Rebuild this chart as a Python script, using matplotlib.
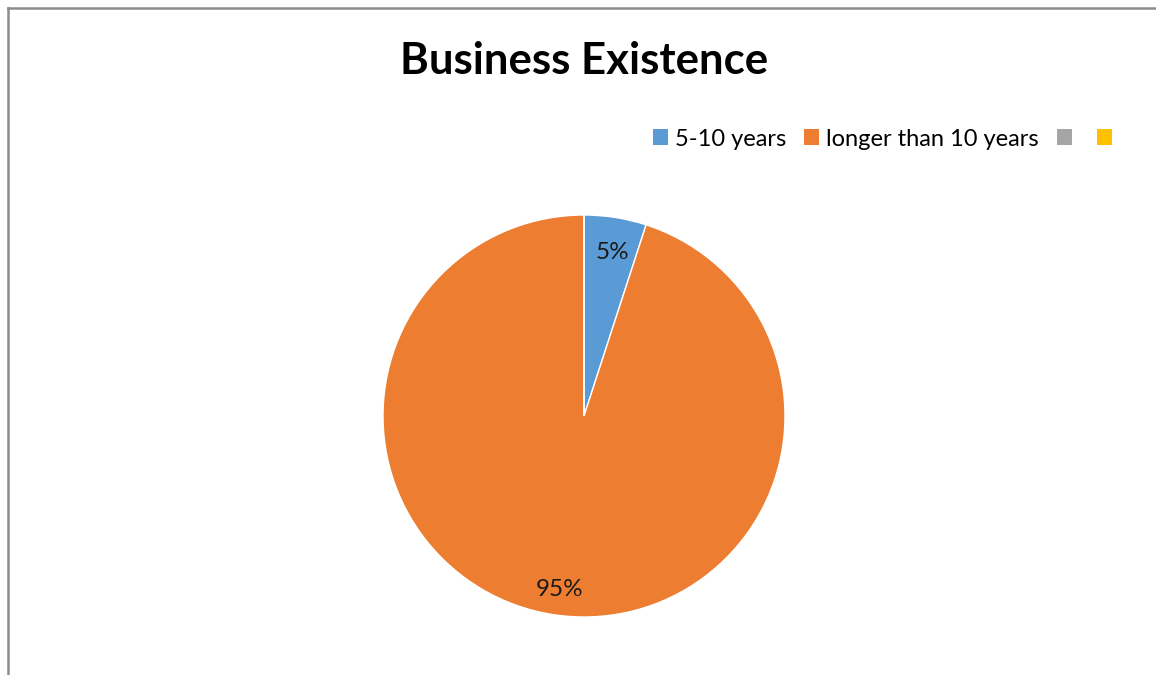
import matplotlib.pyplot as plt
from matplotlib.patches import Patch
from matplotlib.transforms import ScaledTranslation

# ======================= DATA =======================

categories = ["5-10 years", "longer than 10 years", "", ""]
shares = [5, 95, 0, 0]
colors = ["#5B9BD5", "#ED7D31", "#A5A5A5", "#FFC000"]

plt.rcParams['font.family'] = ['Lato', 'DejaVu Sans']

fig = plt.figure(figsize=(11.56, 6.75), dpi=100)

# chart frame (only the top and left edges are visible)
fig.add_artist(plt.Line2D([7.5 / 1156, 1.0], [1 - 7.5 / 675, 1 - 7.5 / 675],
                          color="#8c8c8c", lw=1.8, transform=fig.transFigure))
fig.add_artist(plt.Line2D([7.5 / 1156, 7.5 / 1156], [0.0, 1 - 7.5 / 675],
                          color="#8c8c8c", lw=1.8, transform=fig.transFigure))

# pie centered at (584, 416) px with radius ~200 px
cx, cy, r = 584, 416, 201
ax = fig.add_axes([(cx - r) / 1156, 1 - (cy + r) / 675, 2 * r / 1156, 2 * r / 675])


def pct_label(p):
    return f"{p:.0f}%" if p > 0 else ""


wedges, texts, autotexts = ax.pie(
    shares, colors=colors, startangle=90, counterclock=False,
    autopct=pct_label, pctdistance=0.85, radius=1.0,
    wedgeprops=dict(edgecolor="white", linewidth=1.0),
    textprops=dict(fontsize=17.5, color="#1a1a1a"))
# nudge the percentage labels down a little
for t in autotexts:
    t.set_transform(t.get_transform() + ScaledTranslation(0.02, -0.05, fig.dpi_scale_trans))
ax.set_xlim(-1, 1)
ax.set_ylim(-1, 1)
ax.set_aspect("equal")

fig.text(584 / 1156, 1 - 61 / 675, "Business Existence", ha="center", va="center",
         fontsize=31.5, fontweight="bold", color="#000000")

handles = [Patch(facecolor=c, edgecolor="none") for c in colors]
fig.legend(handles, categories, loc="center right",
           bbox_to_anchor=(1119 / 1156, 1 - 139 / 675), ncol=4, frameon=False,
           fontsize=17, handlelength=0.64, handleheight=0.64, handletextpad=0.3,
           columnspacing=0.76, borderaxespad=0, borderpad=0)

fig.savefig("out.png", dpi=100)
